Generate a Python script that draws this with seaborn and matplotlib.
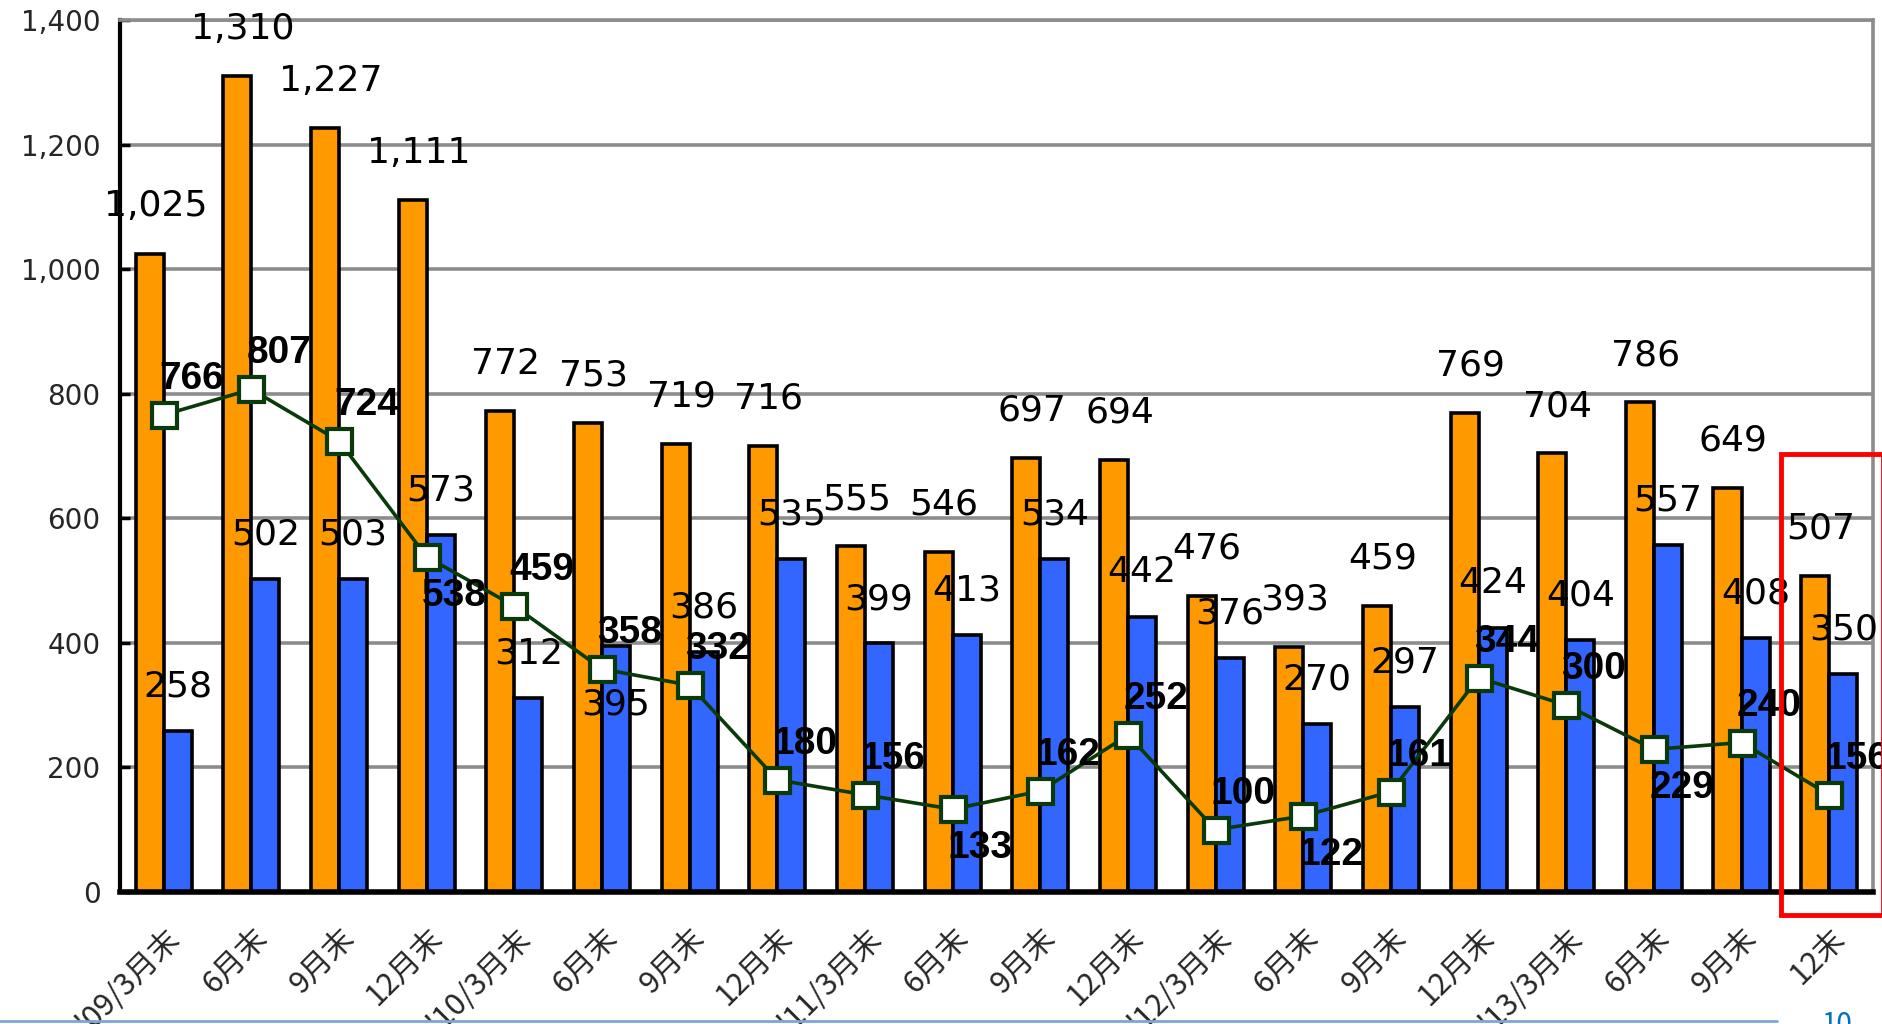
import numpy as np
import pandas as pd
import matplotlib.pyplot as plt
import seaborn as sns
from matplotlib.patches import Rectangle
from matplotlib.lines import Line2D

# data
periods = ["'09/3月末", "6月末", "9月末", "12月末",
           "'10/3月末", "6月末", "9月末", "12月末",
           "'11/3月末", "6月末", "9月末", "12月末",
           "'12/3月末", "6月末", "9月末", "12月末",
           "'13/3月末", "6月末", "9月末", "12末"]
orange_vals = [1025, 1310, 1227, 1111, 772, 753, 719, 716, 555, 546,
               697, 694, 476, 393, 459, 769, 704, 786, 649, 507]
blue_vals = [258, 502, 503, 573, 312, 395, 386, 535, 399, 413,
             534, 442, 376, 270, 297, 424, 404, 557, 408, 350]
line_vals = [766, 807, 724, 538, 459, 358, 332, 180, 156, 133,
             162, 252, 100, 122, 161, 344, 300, 229, 240, 156]
y_ticks = [0, 200, 400, 600, 800, 1000, 1200, 1400]

# labels that sit below their point
line_below = {3, 9, 13, 17}
blue_below = {5}

ORANGE = "#FF9900"
BLUE = "#3366FF"
GREEN = "#0A3A0A"
NUM_FONT = ["DejaVu Sans"]

sns.set_theme(style="white")
plt.rcParams['font.family'] = ['Noto Sans CJK JP', 'DejaVu Sans']

n = len(periods)
df = pd.DataFrame({
    "idx": list(range(n)) * 2,
    "series": ["a"] * n + ["b"] * n,
    "value": orange_vals + blue_vals,
})

fig = plt.figure(figsize=(18.83, 10.24), dpi=100)
ax = fig.add_axes([0.0637, 0.1289, 0.931, 0.8516])

# grid lines first
for t in y_ticks[1:]:
    ax.axhline(t, color="#8C8C8C", lw=2.6, zorder=0)

sns.barplot(data=df, x="idx", y="value", hue="series",
            palette=[ORANGE, BLUE], width=0.64, gap=0,
            edgecolor="black", linewidth=2.6, legend=False,
            saturation=1, ax=ax, zorder=2)

sns.lineplot(x=np.arange(n), y=line_vals, ax=ax, color=GREEN, lw=2.6,
             marker="s", markersize=18, markerfacecolor="white",
             markeredgecolor=GREEN, markeredgewidth=3, zorder=4)

# value labels
for i in range(n):
    ov = orange_vals[i]
    ax.annotate(f"{ov:,}", xy=(i - 0.16, ov), xytext=(4, 34),
                textcoords="offset points", ha="center", va="center",
                fontsize=26, family=NUM_FONT, color="black", zorder=6)
    bv = blue_vals[i]
    dy = -42 if i in blue_below else 32
    ax.annotate(f"{bv}", xy=(i + 0.16, bv), xytext=(0, dy),
                textcoords="offset points", ha="center", va="center",
                fontsize=26, family=NUM_FONT, color="black", zorder=6)
    lv = line_vals[i]
    dy = -28 if i in line_below else 26
    ax.annotate(f"{lv}", xy=(i, lv), xytext=(20, dy),
                textcoords="offset points", ha="center", va="center",
                fontsize=28, fontweight="bold",
                family=["Liberation Sans", "DejaVu Sans"],
                color="black", zorder=7)

ax.set_xlim(-0.5, n - 0.5)
ax.set_ylim(0, 1400)
ax.set_yticks(y_ticks)
ax.set_yticklabels([f"{t:,}" for t in y_ticks], fontsize=20, family=NUM_FONT)
ax.set_xticks(range(n))
ax.set_xticklabels(periods, rotation=45, ha="right", va="top",
                   rotation_mode="anchor", fontsize=22)
ax.set_xticks(np.arange(-0.5, n, 1.0), minor=True)
ax.tick_params(axis="x", which="major", length=0, pad=22)
ax.tick_params(axis="x", which="minor", direction="in", length=8,
               width=2.5, color="black")
ax.tick_params(axis="y", direction="in", length=7, width=2.5,
               color="black", pad=14, left=True)
ax.set_xlabel("")
ax.set_ylabel("")

ax.spines["left"].set_color("black")
ax.spines["left"].set_linewidth(3)
ax.spines["bottom"].set_color("black")
ax.spines["bottom"].set_linewidth(4)
ax.spines["top"].set_color("#8C8C8C")
ax.spines["top"].set_linewidth(2.6)
ax.spines["right"].set_color("#8C8C8C")
ax.spines["right"].set_linewidth(2.6)
for s in ax.spines.values():
    s.set_zorder(5)

# red highlight box around the latest quarter
fig.add_artist(Rectangle((1781 / 1883, 1 - 915 / 1024), 1 - 1781 / 1883, 461 / 1024,
                         transform=fig.transFigure, fill=False,
                         edgecolor="#FF0000", lw=3.5, zorder=10))

# page footer line and page number
fig.add_artist(Line2D([0, 1777 / 1883], [0.003, 0.003], transform=fig.transFigure,
                      color="#7EA6D0", lw=2))
fig.text(1837 / 1883, 1 - 1010 / 1024, "10", color="#0070C0", fontsize=20,
         ha="center", va="top")

fig.savefig("out.png", dpi=100)
